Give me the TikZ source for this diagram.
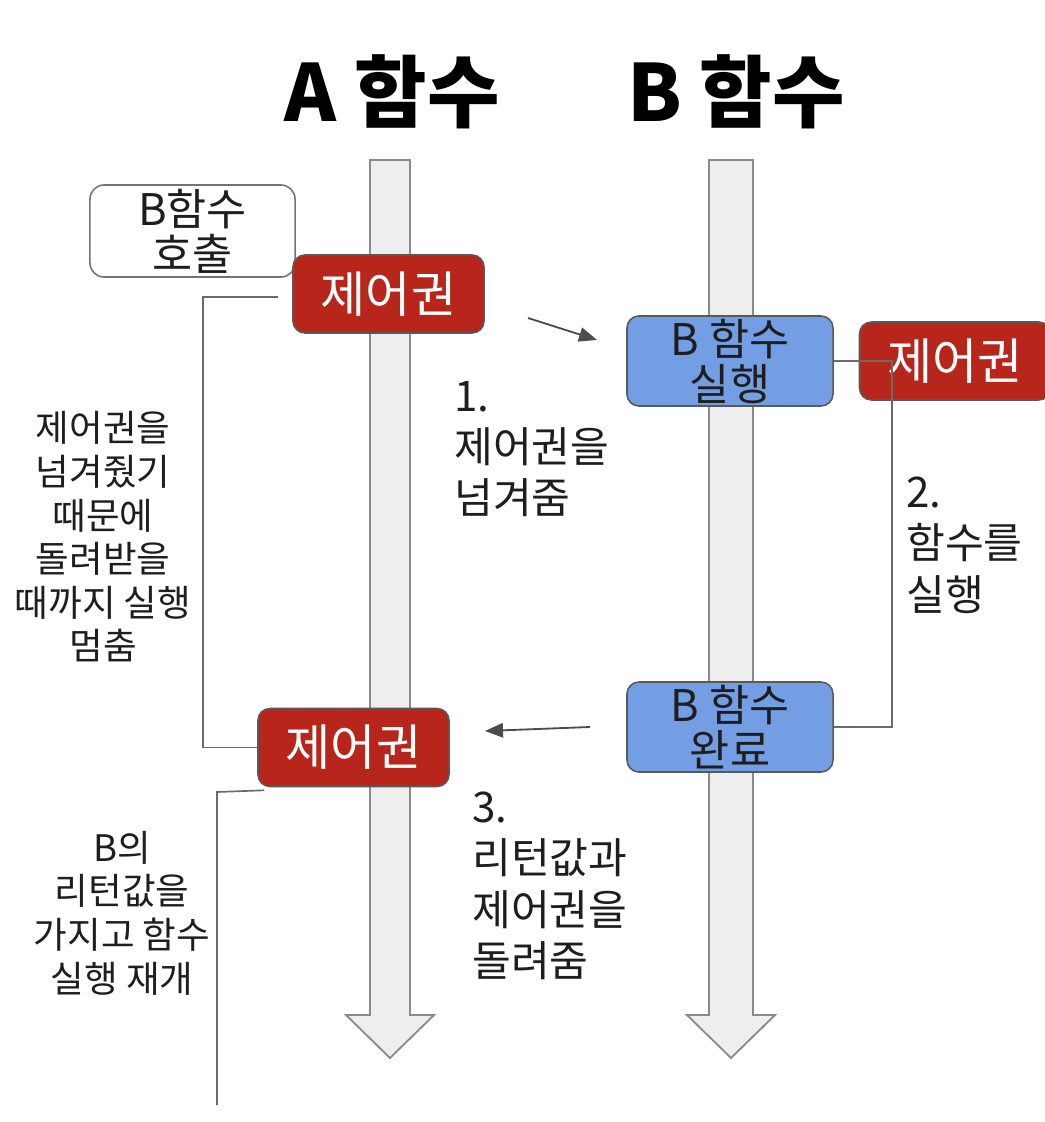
\documentclass[tikz,border=0pt]{standalone}
\usepackage{fontspec}
\setmainfont{Noto Sans CJK KR}
\usetikzlibrary{arrows.meta,calc}
\definecolor{ctrlred}{HTML}{B8261B}
\definecolor{runblue}{HTML}{739EE3}
\definecolor{shaftfill}{HTML}{EEEEEE}
\definecolor{shaftline}{HTML}{8A8A8A}
\definecolor{wire}{HTML}{6B6B6B}
\definecolor{ink}{HTML}{1E1E1E}
\tikzset{
  shaft/.style={draw=shaftline,fill=shaftfill,line width=1.3pt,line join=miter},
  ctrlbox/.style={draw=black!65,fill=ctrlred,text=white,rounded corners=0.3cm,
    line width=1.1pt,minimum width=4.775cm,minimum height=1.95cm,inner sep=0pt,
    font=\fontsize{35pt}{40pt}\selectfont},
  runbox/.style={draw=black!65,fill=runblue,text=ink,rounded corners=0.3cm,
    line width=1.1pt,minimum width=5.15cm,minimum height=2.25cm,inner sep=0pt,
    align=center,font=\fontsize{31pt}{32pt}\selectfont},
  callbox/.style={draw=black!55,fill=white,text=ink,rounded corners=0.35cm,
    line width=1.1pt,minimum width=5.125cm,minimum height=2.3cm,inner sep=0pt,
    align=center,font=\fontsize{31pt}{32pt}\selectfont},
  steptext/.style={text=ink,align=left,inner sep=0pt,anchor=west,
    font=\fontsize{30pt}{36.5pt}\selectfont},
  sidetext/.style={text=ink,align=center,inner sep=0pt,
    font=\fontsize{26pt}{31pt}\selectfont},
  wireline/.style={draw=wire,line width=1.2pt},
  pass/.style={draw=black!70,line width=1.3pt,-{Triangle[length=0.45cm,width=0.36cm]}},
}
\begin{document}
\begin{tikzpicture}[x=0.025cm,y=-0.025cm]
    \useasboundingbox (0,0) rectangle (1044,1122);
    %% Titles
    \node[font=\fontsize{56pt}{64pt}\selectfont\bfseries] (titleA) at (392,92) {A 함수};
    \node[font=\fontsize{56pt}{64pt}\selectfont\bfseries] (titleB) at (736,92) {B 함수};
    %% Time shafts
    \foreach \cx/\hw in {390/20,731/22}
      \draw[shaft] (\cx-\hw,160) -- (\cx+\hw,160) -- (\cx+\hw,1015) -- (\cx+44,1015)
        -- (\cx,1058) -- (\cx-44,1015) -- (\cx-\hw,1015) -- cycle;
    %% Boxes
    \node[callbox] (call) at (192.5,231) {B함수\\호출};
    \node[ctrlbox] (ctrl1) at (388.5,294) {제어권};
    \node[runbox] (runB) at (730,361) {B 함수\\실행};
    \node[ctrlbox] (ctrl2) at (955,361) {제어권};
    \node[runbox] (doneB) at (730,727) {B 함수\\완료};
    \node[ctrlbox] (ctrl3) at (353.5,747.5) {제어권};
    %% Step labels
    \node[steptext] (step1) at (454,449) {1.\\제어권을\\넘겨줌};
    \node[steptext] (step2) at (906,545) {2.\\함수를\\실행};
    \node[steptext] (step3) at (472,886) {3.\\리턴값과\\제어권을\\돌려줌};
    %% Side notes
    \node[sidetext] (wait) at (103,537) {제어권을\\넘겨줬기\\때문에\\돌려받을\\때까지 실행\\멈춤};
    \node[sidetext] (resume) at (122,913) {B의\\리턴값을\\가지고 함수\\실행 재개};
    %% Passing arrows
    \coordinate (give1) at (528,318);
    \coordinate (give2) at (597,340);
    \coordinate (back1) at (590,727);
    \coordinate (back2) at (485,731);
    \draw[pass] (give1) -- (give2);
    \draw[pass] (back1) -- (back2);
    %% Brackets
    \coordinate (waitstart) at (278,297);
    \coordinate (resumecorner) at (217,792);
    \coordinate (resumeend) at (217,1105);
    \draw[wireline] (waitstart) -- ++(-75,0) |- (ctrl3.west);
    \draw[wireline] (runB.east) -- ++(58,0) |- (doneB.east);
    \draw[wireline] ($(ctrl3.south west)+(7,3)$) -- (resumecorner) -- (resumeend);
  \end{tikzpicture}
\end{document}
